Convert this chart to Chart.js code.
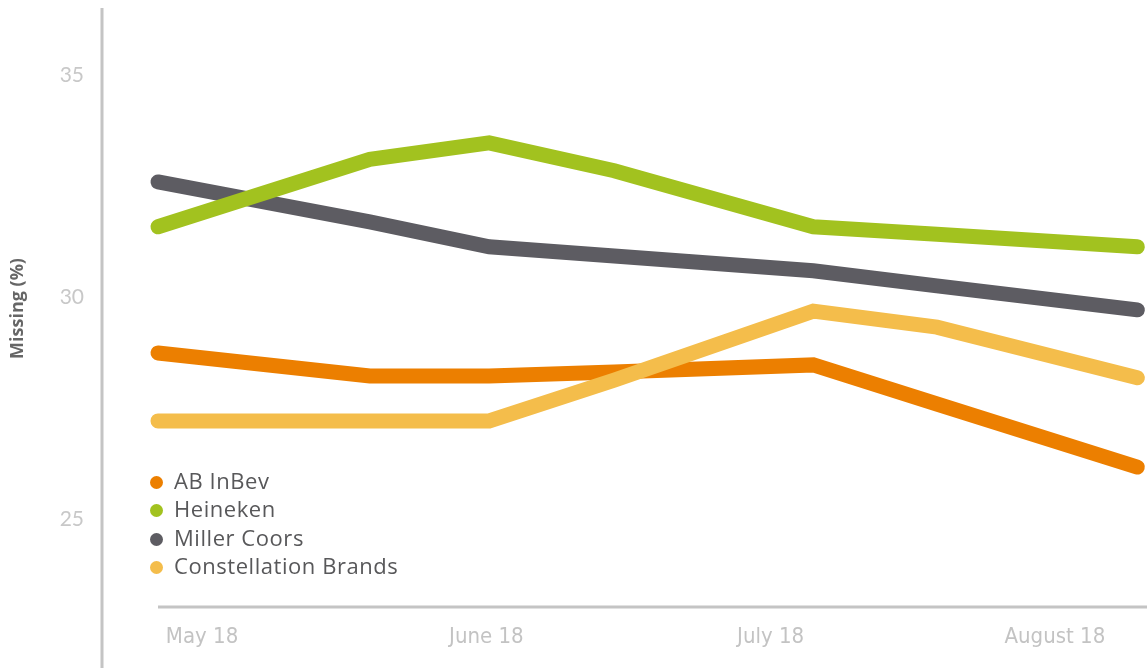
<!DOCTYPE html>
<html>
<head>
<meta charset="utf-8">
<script src="https://cdn.jsdelivr.net/npm/chart.js@4.4.1/dist/chart.umd.min.js"></script>
<style>
  html, body { margin: 0; padding: 0; background: #fff; }
  #wrap { position: relative; width: 1147px; height: 668px; }
  #legend { position: absolute; left: 150px; top: 466px; font-family: "Open Sans", Lato, sans-serif; font-size: 22px; letter-spacing: 0.55px; color: #58585a; }
  #legend div { height: 28.3px; line-height: 28px; white-space: nowrap; }
  #legend span.dot { display: inline-block; width: 13px; height: 13px; border-radius: 50%; margin-right: 11px; vertical-align: 0px; }
</style>
</head>
<body>
<div id="wrap">
  <canvas id="c" width="1147" height="668"></canvas>
  <div id="legend"></div>
</div>
<script>
// x positions in months (0 = May 18, 1 = June 18, ...)
const xPositions = [-0.155, 0.59, 1.01, 1.45, 2.15, 2.585, 3.29];
const monthLabels = ["May 18", "June 18", "July 18", "August 18"];
const seriesNames = ["AB InBev", "Heineken", "Miller Coors", "Constellation Brands"];
const abInBev       = [28.74, 28.22, 28.22, 28.31, 28.47, 27.59, 26.17];
const heineken      = [31.58, 33.10, 33.47, 32.84, 31.58, 31.41, 31.13];
const millerCoors   = [32.59, 31.69, 31.13, 30.92, 30.59, 30.25, 29.71];
const constellation = [27.21, 27.21, 27.21, 28.13, 29.68, 29.32, 28.18];
const yTicks = [25, 30, 35];
const colors = ["#ec7f00", "#a2c21f", "#5d5c62", "#f4bd4b"];
const drawOrder = [2, 1, 3, 0];

const seriesValues = [abInBev, heineken, millerCoors, constellation];
const datasets = seriesNames.map((name, i) => ({
  label: name,
  data: xPositions.map((x, j) => ({ x: x, y: seriesValues[i][j] })),
  borderColor: colors[i],
  backgroundColor: colors[i],
  borderWidth: 15,
  borderCapStyle: 'round',
  borderJoinStyle: 'miter',
  pointRadius: 0,
  pointHoverRadius: 0,
  tension: 0,
  order: drawOrder[i],
  clip: false
}));

const axisLines = {
  id: 'axisLines',
  beforeDatasetsDraw(chart) {
    const ctx = chart.ctx;
    ctx.save();
    ctx.strokeStyle = '#c4c4c4';
    ctx.lineWidth = 3;
    ctx.beginPath();
    ctx.moveTo(102, 8);
    ctx.lineTo(102, 668);
    ctx.stroke();
    ctx.beginPath();
    ctx.moveTo(158, chart.chartArea.bottom);
    ctx.lineTo(1147, chart.chartArea.bottom);
    ctx.stroke();
    ctx.restore();
  }
};

function noPad(scale) {
  scale.paddingTop = 0; scale.paddingBottom = 0;
  scale.paddingLeft = 0; scale.paddingRight = 0;
}

new Chart(document.getElementById('c'), {
  type: 'line',
  data: { datasets },
  options: {
    responsive: false,
    animation: false,
    layout: { padding: { top: 10, left: 0, right: 0, bottom: 0 } },
    plugins: { legend: { display: false }, tooltip: { enabled: false } },
    scales: {
      x: {
        type: 'linear',
        min: -0.352,
        max: 3.324,
        grid: { display: false, drawTicks: false },
        border: { display: false },
        afterBuildTicks(scale) { scale.ticks = monthLabels.map((l, i) => ({ value: i })); },
        afterFit(scale) { scale.height = 61; noPad(scale); },
        ticks: {
          callback: (v) => monthLabels[v],
          color: '#c3c3c3',
          padding: 17,
          maxRotation: 0,
          font: { family: '"Liberation Sans Narrow", "DejaVu Sans Condensed", sans-serif', size: 22 }
        }
      },
      y: {
        min: 23.02,
        max: 36.46,
        grid: { display: false, drawTicks: false },
        border: { display: false },
        afterBuildTicks(scale) { scale.ticks = yTicks.map(v => ({ value: v })); },
        afterFit(scale) { scale.width = 102; noPad(scale); },
        ticks: {
          color: '#c8c8c8',
          padding: 18,
          font: { family: 'Lato, "Open Sans", sans-serif', size: 21 }
        },
        title: {
          display: true,
          text: 'Missing (%)',
          color: '#666666',
          padding: { top: 7, bottom: 0 },
          font: { family: '"Open Sans", sans-serif', size: 18, weight: '700' }
        }
      }
    }
  },
  plugins: [axisLines]
});

const legendEl = document.getElementById('legend');
seriesNames.forEach((name, i) => {
  const row = document.createElement('div');
  const dot = document.createElement('span');
  dot.className = 'dot';
  dot.style.background = colors[i];
  row.appendChild(dot);
  row.appendChild(document.createTextNode(name));
  legendEl.appendChild(row);
});
</script>
</body>
</html>
